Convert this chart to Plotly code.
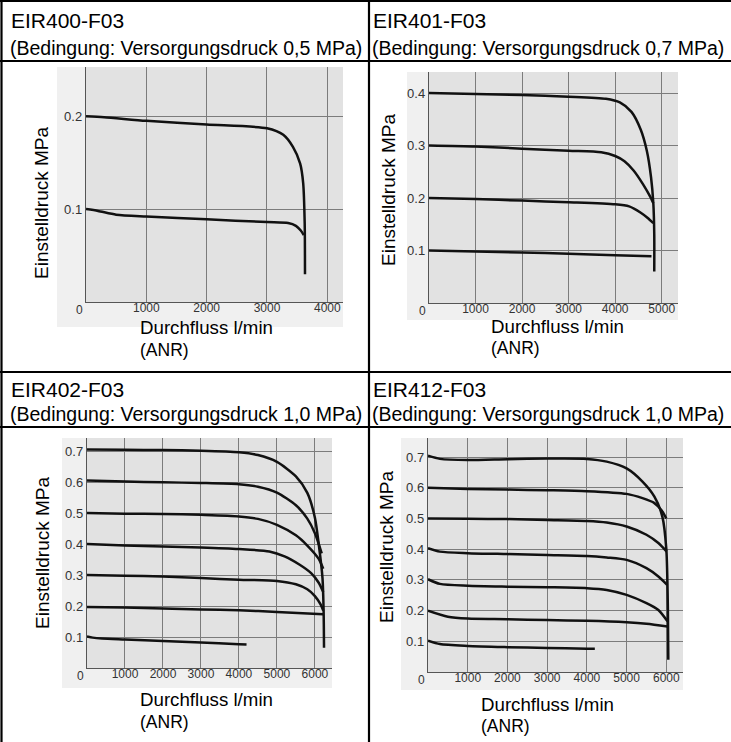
import plotly.graph_objects as go

W, H = 731, 742
FONT = "Liberation Sans, Arial, sans-serif"

# ---------------- data ----------------
titles = ["EIR400-F03", "EIR401-F03", "EIR402-F03", "EIR412-F03"]
subtitles = [
    "(Bedingung: Versorgungsdruck 0,5 MPa)",
    "(Bedingung: Versorgungsdruck 0,7 MPa)",
    "(Bedingung: Versorgungsdruck 1,0 MPa)",
    "(Bedingung: Versorgungsdruck 1,0 MPa)",
]
y_title = "Einstelldruck MPa"
x_title = "Durchfluss l/min"
x_title2 = "(ANR)"

x_ticks_p1 = [1000, 2000, 3000, 4000]
x_ticks_p2 = [1000, 2000, 3000, 4000, 5000]
x_ticks_p3 = [1000, 2000, 3000, 4000, 5000, 6000]
x_ticks_p4 = [1000, 2000, 3000, 4000, 5000, 6000]
y_ticks_p1 = [0.1, 0.2]
y_ticks_p2 = [0.1, 0.2, 0.3, 0.4]
y_ticks_p3 = [0.1, 0.2, 0.3, 0.4, 0.5, 0.6, 0.7]
y_ticks_p4 = [0.1, 0.2, 0.3, 0.4, 0.5, 0.6, 0.7]

# EIR400-F03
p1_a_x = [0, 300, 1000, 2000, 3000, 3270, 3430, 3550, 3600, 3625, 3630]
p1_a_y = [0.200, 0.199, 0.195, 0.191, 0.187, 0.180, 0.167, 0.149, 0.128, 0.085, 0.030]
p1_b_x = [0, 200, 500, 1000, 2000, 3000, 3350, 3480, 3560, 3610]
p1_b_y = [0.100, 0.098, 0.094, 0.092, 0.089, 0.086, 0.085, 0.082, 0.077, 0.072]

# EIR401-F03
p2_a_x = [0, 1000, 2000, 3000, 3800, 4100, 4350, 4550, 4680, 4770, 4820, 4840, 4840]
p2_a_y = [0.400, 0.398, 0.396, 0.393, 0.389, 0.382, 0.364, 0.330, 0.290, 0.240, 0.190, 0.130, 0.060]
p2_b_x = [0, 1000, 2000, 3000, 3700, 4000, 4200, 4400, 4600, 4750, 4820]
p2_b_y = [0.300, 0.298, 0.294, 0.290, 0.287, 0.280, 0.270, 0.252, 0.226, 0.203, 0.190]
p2_c_x = [0, 1000, 2000, 3000, 4000, 4300, 4550, 4700, 4820]
p2_c_y = [0.200, 0.198, 0.195, 0.192, 0.188, 0.184, 0.172, 0.162, 0.152]
p2_d_x = [0, 1000, 2000, 3000, 4000, 4780]
p2_d_y = [0.100, 0.098, 0.096, 0.094, 0.091, 0.089]

# EIR402-F03
p3_a_x = [0, 1000, 2000, 3000, 4000, 4500, 5000, 5500, 5800, 6000, 6100, 6200, 6230, 6240]
p3_a_y = [0.705, 0.704, 0.703, 0.701, 0.696, 0.687, 0.665, 0.618, 0.565, 0.485, 0.400, 0.290, 0.180, 0.065]
p3_b_x = [0, 1000, 2000, 3000, 4000, 4500, 5000, 5500, 5800, 6000, 6180]
p3_b_y = [0.605, 0.602, 0.599, 0.597, 0.593, 0.585, 0.566, 0.525, 0.482, 0.435, 0.370]
p3_c_x = [0, 1000, 2000, 3000, 4000, 4500, 5000, 5500, 5800, 6100, 6220]
p3_c_y = [0.500, 0.498, 0.497, 0.494, 0.489, 0.481, 0.462, 0.428, 0.395, 0.352, 0.320]
p3_d_x = [0, 1000, 2000, 3000, 4000, 4800, 5200, 5600, 5900, 6100, 6220]
p3_d_y = [0.400, 0.395, 0.392, 0.389, 0.384, 0.376, 0.360, 0.333, 0.306, 0.275, 0.245]
p3_e_x = [0, 1000, 2000, 3000, 4000, 5000, 5500, 5800, 6000, 6150, 6220]
p3_e_y = [0.300, 0.298, 0.295, 0.290, 0.285, 0.281, 0.270, 0.254, 0.232, 0.205, 0.185]
p3_f_x = [0, 1000, 2000, 3000, 4000, 5000, 6220]
p3_f_y = [0.197, 0.195, 0.192, 0.189, 0.186, 0.181, 0.173]
p3_g_x = [0, 150, 400, 1000, 2000, 3000, 4000, 4200]
p3_g_y = [0.102, 0.098, 0.095, 0.092, 0.087, 0.082, 0.077, 0.076]

# EIR412-F03
p4_a_x = [0, 300, 1000, 2000, 3000, 4000, 4500, 5000, 5400, 5700, 5900, 6000, 6040, 6050]
p4_a_y = [0.704, 0.694, 0.690, 0.693, 0.695, 0.694, 0.685, 0.663, 0.620, 0.571, 0.506, 0.400, 0.200, 0.040]
p4_b_x = [0, 1000, 2000, 3000, 4000, 5000, 5400, 5700, 5900, 6000]
p4_b_y = [0.600, 0.596, 0.594, 0.592, 0.589, 0.580, 0.566, 0.550, 0.523, 0.500]
p4_c_x = [0, 1000, 2000, 3000, 4000, 4500, 5000, 5500, 5800, 6010]
p4_c_y = [0.500, 0.499, 0.498, 0.495, 0.492, 0.487, 0.474, 0.447, 0.420, 0.392]
p4_d_x = [0, 300, 1000, 2000, 3000, 4000, 4500, 5000, 5500, 5800, 6020]
p4_d_y = [0.403, 0.392, 0.387, 0.384, 0.381, 0.378, 0.373, 0.365, 0.338, 0.311, 0.284]
p4_e_x = [0, 300, 1000, 2000, 3000, 4000, 4500, 5000, 5500, 5800, 6030]
p4_e_y = [0.302, 0.287, 0.281, 0.278, 0.276, 0.273, 0.267, 0.251, 0.224, 0.202, 0.165]
p4_f_x = [0, 500, 1000, 2000, 3000, 4000, 5000, 5500, 6030]
p4_f_y = [0.200, 0.180, 0.174, 0.172, 0.169, 0.167, 0.162, 0.157, 0.148]
p4_g_x = [0, 300, 1000, 2000, 3000, 4000, 4200]
p4_g_y = [0.102, 0.091, 0.085, 0.081, 0.078, 0.076, 0.076]

panel_curves = [
    [(p1_a_x, p1_a_y), (p1_b_x, p1_b_y)],
    [(p2_a_x, p2_a_y), (p2_b_x, p2_b_y), (p2_c_x, p2_c_y), (p2_d_x, p2_d_y)],
    [(p3_a_x, p3_a_y), (p3_b_x, p3_b_y), (p3_c_x, p3_c_y), (p3_d_x, p3_d_y),
     (p3_e_x, p3_e_y), (p3_f_x, p3_f_y), (p3_g_x, p3_g_y)],
    [(p4_a_x, p4_a_y), (p4_b_x, p4_b_y), (p4_c_x, p4_c_y), (p4_d_x, p4_d_y),
     (p4_e_x, p4_e_y), (p4_f_x, p4_f_y), (p4_g_x, p4_g_y)],
]
x_ticks = [x_ticks_p1, x_ticks_p2, x_ticks_p3, x_ticks_p4]
y_ticks = [y_ticks_p1, y_ticks_p2, y_ticks_p3, y_ticks_p4]
x_ranges = [[0, 4260], [0, 5350], [0, 6450], [0, 6420]]
y_ranges = [[0, 0.253], [0, 0.44], [0, 0.742], [0, 0.762]]

# ---------------- layout geometry (pixels) ----------------
plot_px = [(86, 343, 67, 302), (429, 678, 72, 303), (87, 332, 438, 668), (428, 683, 438, 672)]
img_px = [(57, 343, 67, 327), (407, 678, 72, 320), (62, 332, 438, 688), (401, 683, 438, 690)]
head_px = [(9, 20, 48), (371, 20, 48), (9, 389, 414), (371, 389, 414)]
ytitle_px = [(41, 203), (388, 190), (42, 553), (386, 547)]
xtitle_px = [(138, 328, 350), (489, 326, 348), (138, 699, 722), (479, 704, 726)]


def px(x):
    return x / W


def py(y):
    return 1 - y / H


fig = go.Figure()
shapes = []
annotations = []

for i in range(4):
    n = "" if i == 0 else str(i + 1)
    xa, ya = "x" + n, "y" + n
    L, R, T, B = plot_px[i]
    for cx, cy in panel_curves[i]:
        fig.add_trace(go.Scatter(
            x=cx, y=cy, mode="lines", xaxis=xa, yaxis=ya,
            line=dict(color="#111111", width=2.5, shape="spline", smoothing=0.7),
            showlegend=False, hoverinfo="skip"))
    axis_common = dict(showgrid=True, gridcolor="#7c7c7c", gridwidth=1, zeroline=False,
                       showline=True, linecolor="#555555", linewidth=1.2, ticks="",
                       mirror=False)
    fig.layout["xaxis" + n] = dict(domain=[px(L), px(R)], range=x_ranges[i], anchor=ya,
                                   tickvals=x_ticks[i], ticklabelstandoff=-6,
                                   tickfont=dict(family=FONT, size=12, color="#333333"),
                                   **axis_common)
    fig.layout["yaxis" + n] = dict(domain=[py(B), py(T)], range=y_ranges[i], anchor=xa,
                                   tickvals=y_ticks[i], tickformat=".1f",
                                   tickfont=dict(family=FONT, size=13, color="#333333"),
                                   **axis_common)
    il, ir, it, ib = img_px[i]
    shapes.append(dict(type="rect", xref="paper", yref="paper", x0=px(il), x1=px(ir),
                       y0=py(ib), y1=py(it), fillcolor="#f0f0f0", line=dict(width=0),
                       layer="below"))
    shapes.append(dict(type="rect", xref=xa + " domain", yref=ya + " domain", x0=0, x1=1,
                       y0=0, y1=1, fillcolor="#e2e2e2", line=dict(width=0), layer="below"))
    annotations.append(dict(x=0, y=0, xref=xa, yref=ya, text="0", showarrow=False,
                            xshift=-7, yshift=-8, xanchor="center", yanchor="middle",
                            font=dict(family=FONT, size=12, color="#333333")))
    hx, hy1, hy2 = head_px[i]
    annotations.append(dict(x=px(hx), y=py(hy1), xref="paper", yref="paper", text=titles[i],
                            showarrow=False, xanchor="left", yanchor="middle",
                            font=dict(family=FONT, size=21, color="#000000")))
    annotations.append(dict(x=px(hx - 1), y=py(hy2), xref="paper", yref="paper",
                            text=subtitles[i], showarrow=False, xanchor="left",
                            yanchor="middle", font=dict(family=FONT, size=19.5, color="#000000")))
    tx, ty = ytitle_px[i]
    annotations.append(dict(x=px(tx), y=py(ty), xref="paper", yref="paper", text=y_title,
                            textangle=-90, showarrow=False, xanchor="center", yanchor="middle",
                            font=dict(family=FONT, size=19, color="#000000")))
    bx, by1, by2 = xtitle_px[i]
    annotations.append(dict(x=px(bx), y=py(by1), xref="paper", yref="paper", text=x_title,
                            showarrow=False, xanchor="left", yanchor="middle",
                            font=dict(family=FONT, size=18.7, color="#000000")))
    annotations.append(dict(x=px(bx), y=py(by2), xref="paper", yref="paper", text=x_title2,
                            showarrow=False, xanchor="left", yanchor="middle",
                            font=dict(family=FONT, size=17.5, color="#000000")))

line_style = dict(color="#000000", width=2.2)
for (x0, y0, x1, y1) in [(0, 1, W, 1), (0, 61, W, 61), (0, 372, W, 372), (0, 427, W, 427),
                         (1.5, 0, 1.5, H), (369, 0, 369, H)]:
    shapes.append(dict(type="line", xref="paper", yref="paper", x0=px(x0), x1=px(x1),
                       y0=py(y0), y1=py(y1), line=line_style, layer="above"))

fig.update_layout(
    width=W, height=H, margin=dict(l=0, r=0, t=0, b=0),
    paper_bgcolor="#ffffff", plot_bgcolor="rgba(0,0,0,0)",
    shapes=shapes, annotations=annotations, showlegend=False,
    font=dict(family=FONT),
)

fig.write_html("out.html", config={"displayModeBar": False, "staticPlot": True},
               post_script="document.body.style.margin='0px';document.body.style.overflow='hidden';")
